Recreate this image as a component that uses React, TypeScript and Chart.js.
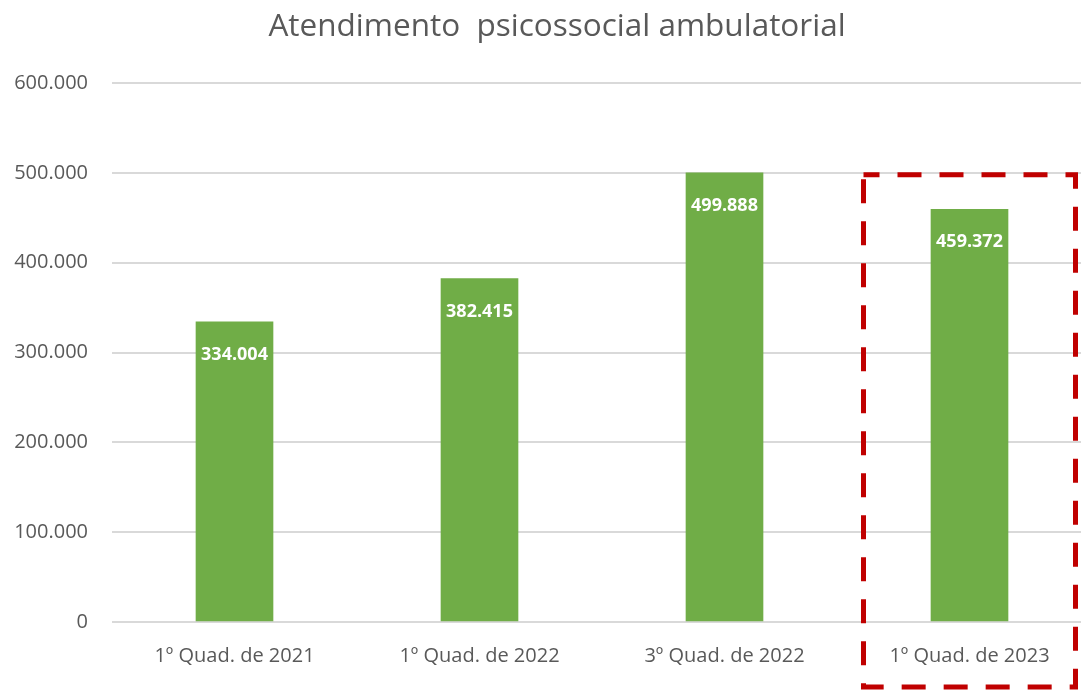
import React, { useEffect, useRef } from "react";
import { Chart, registerables } from "chart.js";

Chart.register(...registerables);

const chartTitle = "Atendimento  psicossocial ambulatorial";
const categories = ["1º Quad. de 2021", "1º Quad. de 2022", "3º Quad. de 2022", "1º Quad. de 2023"];
const values = [334004, 382415, 499888, 459372];
const yTickValues = [0, 100000, 200000, 300000, 400000, 500000, 600000];
const highlightIndex = 3;

const fmt = (v: number): string => {
  const s = Math.round(v).toString();
  return s.replace(/\B(?=(\d{3})+(?!\d))/g, ".");
};

const overlayPlugin = {
  id: "overlay",
  afterDraw(chart: any) {
    const ctx = chart.ctx as CanvasRenderingContext2D;
    const meta = chart.getDatasetMeta(0);
    const xs = chart.scales.x;
    const ys = chart.scales.y;
    ctx.save();
    // data labels
    ctx.fillStyle = "#ffffff";
    ctx.font = 'bold 18px "Open Sans"';
    ctx.textAlign = "center";
    ctx.textBaseline = "middle";
    meta.data.forEach((bar: any, i: number) => {
      ctx.fillText(fmt(values[i]), bar.x, bar.y + 33);
    });
    // title
    ctx.fillStyle = "#595959";
    ctx.font = '31.5px "Open Sans"';
    ctx.fillText(chartTitle, 557, 27);
    // highlight box
    const cx = xs.getPixelForValue(highlightIndex);
    const half = 106;
    const top = ys.getPixelForValue(500000) + 2;
    const bottom = chart.height - 3;
    ctx.strokeStyle = "#C00000";
    ctx.lineWidth = 5;
    ctx.setLineDash([24, 18]);
    ctx.lineDashOffset = 8;
    ctx.strokeRect(cx - half, top, half * 2, bottom - top);
    ctx.restore();
  },
};

export default function App() {
  const ref = useRef<HTMLCanvasElement | null>(null);
  useEffect(() => {
    if (!ref.current) return;
    const chart = new Chart(ref.current, {
      type: "bar",
      data: {
        labels: categories,
        datasets: [
          {
            data: values,
            backgroundColor: "#70AD47",
            borderWidth: 0,
            barThickness: 77,
          },
        ],
      },
      options: {
        responsive: false,
        animation: false,
        layout: { padding: { top: 83, right: 23, left: 0, bottom: 0 } },
        plugins: {
          legend: { display: false },
          title: { display: false },
          tooltip: { enabled: false },
        },
        scales: {
          x: {
            grid: { display: false, drawTicks: false },
            border: { display: false },
            ticks: {
              color: "#595959",
              font: { family: "Open Sans", size: 20 },
              padding: 22,
              maxRotation: 0,
            },
            afterFit: (scale: any) => {
              scale.height = 68;
            },
          },
          y: {
            min: 0,
            max: 600000,
            afterBuildTicks: (scale: any) => {
              scale.ticks = yTickValues.map((v) => ({ value: v }));
            },
            grid: { color: "#d9d9d9", lineWidth: 2, drawTicks: false },
            border: { display: false },
            ticks: {
              color: "#595959",
              font: { family: "Open Sans", size: 20 },
              padding: 24,
              callback: (v: any) => fmt(Number(v)),
            },
            afterFit: (scale: any) => {
              scale.width = 112;
            },
          },
        },
      },
      plugins: [overlayPlugin],
    });
    return () => chart.destroy();
  }, []);
  return (
    <div
      style={{
        position: "absolute",
        left: 0,
        top: 0,
        width: 1081,
        height: 690,
        overflow: "hidden",
        background: "#ffffff",
      }}
    >
      <canvas ref={ref} width={1115} height={690} style={{ display: "block" }} />
    </div>
  );
}
